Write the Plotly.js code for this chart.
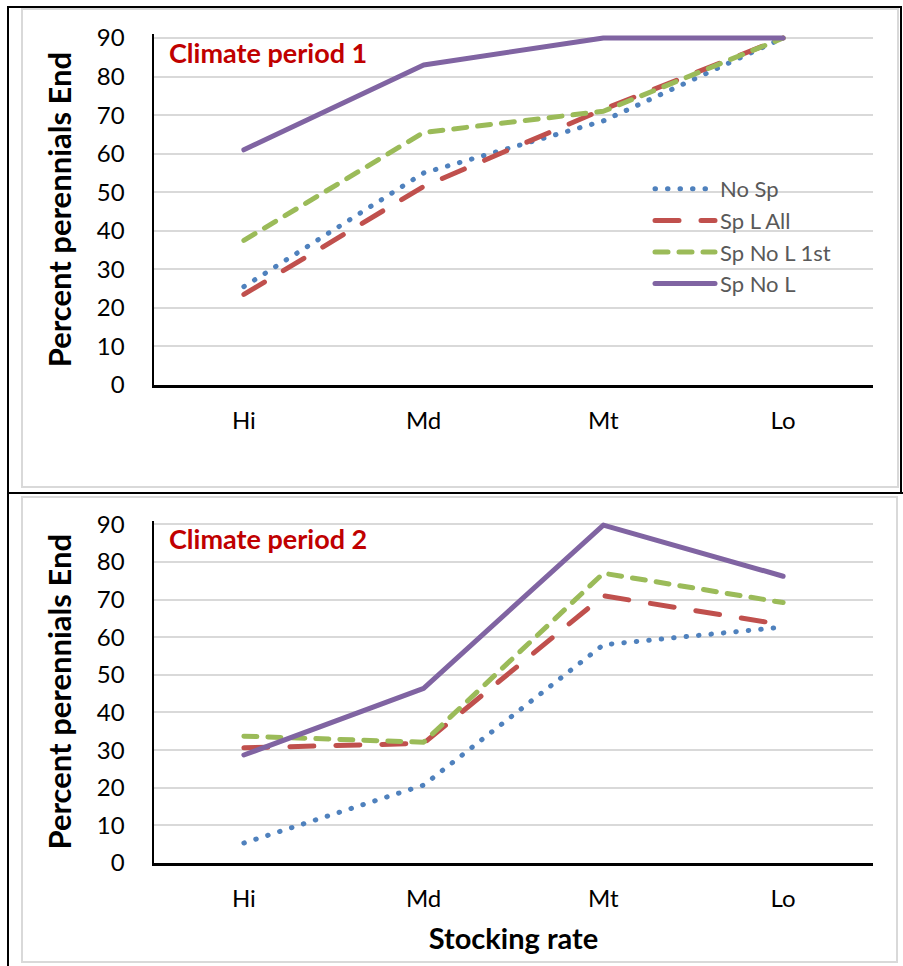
<!DOCTYPE html>
<html>
<head>
<meta charset="utf-8">
<script src="https://cdn.plot.ly/plotly-3.0.1.min.js"></script>
<style>
html, body { margin: 0; padding: 0; background: #fff; }
#chart { width: 903px; height: 966px; }
path.js-line { stroke-linecap: round !important; stroke-linejoin: round !important; }
</style>
</head>
<body>
<div id="chart"></div>
<script>
// ---- data ----
const categories = ['Hi', 'Md', 'Mt', 'Lo'];
const seriesNames = ['No Sp', 'Sp L All', 'Sp No L 1st', 'Sp No L'];

// Climate period 1
const p1NoSp      = [25.5, 55.0, 68.5, 90];
const p1SpLAll    = [23.5, 51.5, 71.5, 90];
const p1SpNoL1st  = [37.5, 65.5, 71.0, 90];
const p1SpNoL     = [61.0, 83.0, 90.0, 90];

// Climate period 2
const p2NoSp      = [5.3, 20.7, 58.0, 62.7];
const p2SpLAll    = [30.6, 31.8, 71.0, 63.3];
const p2SpNoL1st  = [33.7, 32.1, 77.0, 69.2];
const p2SpNoL     = [28.7, 46.4, 89.8, 76.2];

const yTickVals = [0, 10, 20, 30, 40, 50, 60, 70, 80, 90];
const panelTitles = ['Climate period 1', 'Climate period 2'];
const yTitle = 'Percent perennials End';
const xTitle = 'Stocking rate';

// ---- styles ----
const lineStyles = [
  {color: '#4F81BD', width: 5, dash: '0.5px,12px'},
  {color: '#C0504D', width: 5, dash: '24px,22px'},
  {color: '#9BBB59', width: 5, dash: '13px,11px'},
  {color: '#8064A2', width: 5, dash: 'solid'}
];

const p1 = [p1NoSp, p1SpLAll, p1SpNoL1st, p1SpNoL];
const p2 = [p2NoSp, p2SpLAll, p2SpNoL1st, p2SpNoL];

const traces = [];
p1.forEach((vals, i) => traces.push({
  type: 'scatter', mode: 'lines', x: categories, y: vals, name: seriesNames[i],
  line: lineStyles[i], xaxis: 'x', yaxis: 'y', showlegend: true, hoverinfo: 'skip'
}));
p2.forEach((vals, i) => traces.push({
  type: 'scatter', mode: 'lines', x: categories, y: vals, name: seriesNames[i],
  line: lineStyles[i], xaxis: 'x2', yaxis: 'y2', showlegend: false, hoverinfo: 'skip'
}));

const W = 903, H = 966;
const px = v => v / W;
const py = v => 1 - v / H;

const FAM = 'Lato, "Open Sans", sans-serif';
const tickFont = {family: FAM, size: 24, color: '#000'};
const yTitleFont = {family: FAM, size: 31, color: '#000', weight: 'bold'};
const xTitleFont = {family: FAM, size: 29, color: '#000', weight: 'bold'};

function xAxis(anchor, withTitle) {
  const a = {
    type: 'category', domain: [px(154), px(873)], range: [-0.5, 3.5], anchor: anchor,
    showgrid: false, zeroline: false, showline: true, linecolor: '#000', linewidth: 2.5,
    ticks: '', tickfont: tickFont, ticklabelstandoff: 13, fixedrange: true
  };
  if (withTitle) a.title = {text: xTitle, font: xTitleFont, standoff: 18};
  return a;
}
function yAxis(anchor, domain) {
  return {
    domain: domain, range: [0, 91], anchor: anchor,
    tickvals: yTickVals, ticktext: yTickVals.map(String),
    showgrid: true, gridcolor: '#D9D9D9', gridwidth: 2,
    zeroline: false, showline: true, linecolor: '#000', linewidth: 2.5,
    ticks: '', tickfont: tickFont, ticklabelstandoff: 22,
    title: {text: yTitle, font: yTitleFont, standoff: 16}, fixedrange: true
  };
}

const shapes = [
  // light grey panel frames
  {type: 'rect', xref: 'paper', yref: 'paper', x0: px(22), x1: px(898), y0: py(487), y1: py(9), line: {color: '#D9D9D9', width: 2}},
  {type: 'rect', xref: 'paper', yref: 'paper', x0: px(22), x1: px(897), y0: py(962), y1: py(497), line: {color: '#D9D9D9', width: 2}},
  // black table borders
  {type: 'line', xref: 'paper', yref: 'paper', x0: px(8), x1: px(8), y0: py(966), y1: py(6), line: {color: '#000', width: 2}},
  {type: 'line', xref: 'paper', yref: 'paper', x0: px(7), x1: px(902), y0: py(7), y1: py(7), line: {color: '#000', width: 2}},
  {type: 'line', xref: 'paper', yref: 'paper', x0: px(901), x1: px(901), y0: py(494), y1: py(6), line: {color: '#000', width: 2}},
  {type: 'line', xref: 'paper', yref: 'paper', x0: px(7), x1: px(903), y0: py(493), y1: py(493), line: {color: '#000', width: 2}}
];

const annFont = {family: FAM, size: 27, color: '#C00000', weight: 'bold'};
const annotations = [
  {text: panelTitles[0], xref: 'paper', yref: 'paper', x: px(167), y: py(53), xanchor: 'left', yanchor: 'middle', showarrow: false, font: annFont},
  {text: panelTitles[1], xref: 'paper', yref: 'paper', x: px(167), y: py(538), xanchor: 'left', yanchor: 'middle', showarrow: false, font: annFont}
];

const layout = {
  width: W, height: H,
  margin: {l: 0, r: 0, t: 0, b: 0},
  paper_bgcolor: '#fff', plot_bgcolor: 'rgba(0,0,0,0)',
  showlegend: true,
  legend: {
    x: px(650), y: py(168), xanchor: 'left', yanchor: 'top',
    bgcolor: 'rgba(0,0,0,0)', borderwidth: 0,
    font: {family: FAM, size: 22, color: '#595959'},
    itemwidth: 60, tracegroupgap: 0
  },
  xaxis: xAxis('y', false),
  yaxis: yAxis('x', [py(385), py(385 - 347 * 91 / 90)]),
  xaxis2: xAxis('y2', true),
  yaxis2: yAxis('x2', [py(863), py(863 - 338.7 * 91 / 90)]),
  shapes: shapes,
  annotations: annotations
};

Plotly.newPlot('chart', traces, layout, {displayModeBar: false, staticPlot: true});
</script>
</body>
</html>
